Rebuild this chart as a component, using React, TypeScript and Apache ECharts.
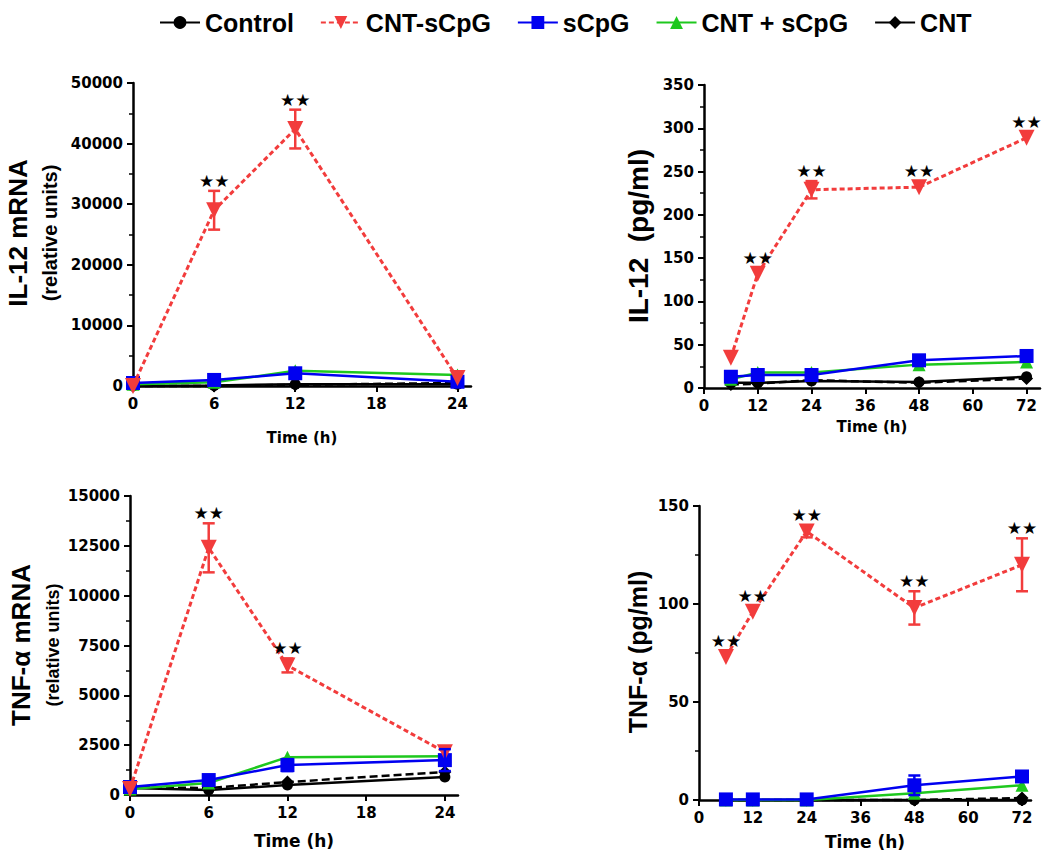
import React, { useEffect, useRef } from "react";
import * as echarts from "echarts";

// ---------- categories / ticks ----------
const SERIES_NAMES = ["Control", "CNT-sCpG", "sCpG", "CNT + sCpG", "CNT"];
const mrnaTimes = [0, 6, 12, 24];
const proteinTimes = [6, 12, 24, 48, 72];
const mrnaTimeTicks = [0, 6, 12, 18, 24];
const proteinTimeTicks = [0, 12, 24, 36, 48, 60, 72];

// ---------- Panel 1: IL-12 mRNA (relative units) ----------
const il12mControl = [0, 100, 300, 300];
const il12mCntSCpG = [0, 29000, 42400, 1300];
const il12mCntSCpGErr = [0, 3200, 3200, 0];
const il12mSCpG = [500, 1000, 2100, 700];
const il12mSCpGErr = [0, 0, 0, 0];
const il12mCntPlusSCpG = [300, 600, 2500, 1800];
const il12mCnt = [0, 0, 200, 500];
const il12mStars = [0, 1, 1, 0];

// ---------- Panel 2: IL-12 (pg/ml) ----------
const il12pControl = [6, 6, 8, 7, 13];
const il12pCntSCpG = [35, 132, 229, 232, 289];
const il12pCntSCpGErr = [0, 0, 10, 0, 0];
const il12pSCpG = [13, 15, 15, 32, 37];
const il12pSCpGErr = [0, 0, 0, 0, 0];
const il12pCntPlusSCpG = [10, 18, 18, 27, 30];
const il12pCnt = [4, 5, 9, 6, 11];
const il12pStars = [0, 1, 1, 1, 1];

// ---------- Panel 3: TNF-α mRNA (relative units) ----------
const tnfmControl = [350, 250, 500, 900];
const tnfmCntSCpG = [300, 12400, 6500, 2150];
const tnfmCntSCpGErr = [0, 1230, 350, 0];
const tnfmSCpG = [400, 750, 1500, 1750];
const tnfmSCpGErr = [0, 0, 300, 550];
const tnfmCntPlusSCpG = [300, 600, 1900, 1950];
const tnfmCnt = [400, 350, 650, 1150];
const tnfmStars = [0, 1, 1, 0];

// ---------- Panel 4: TNF-α (pg/ml) ----------
const tnfpControl = [0, 0, 0, 0, 0];
const tnfpCntSCpG = [73, 96, 137, 98, 120];
const tnfpCntSCpGErr = [0, 0, 3, 8.5, 13.5];
const tnfpSCpG = [0.3, 0.3, 0.3, 7.5, 12];
const tnfpSCpGErr = [0, 0, 0, 5, 0];
const tnfpCntPlusSCpG = [0, 0, 0, 3.5, 7.5];
const tnfpCnt = [0, 0, 0, 0, 1];
const tnfpStars = [1, 1, 1, 1, 1];

// ---------- styles ----------
const RED = "#f23c3c";
const BLUE = "#0000f0";
const GREEN = "#1ec81e";
const BLACK = "#000000";

const STYLE: Record<string, any> = {
  Control: { color: BLACK, symbol: "circle", size: 11, rotate: 0, type: "solid", width: 2.5, z: 3 },
  "CNT-sCpG": { color: RED, symbol: "triangle", size: 16, rotate: 180, type: [5, 3], width: 3, z: 6 },
  sCpG: { color: BLUE, symbol: "rect", size: 14, rotate: 0, type: "solid", width: 2.5, z: 5 },
  "CNT + sCpG": { color: GREEN, symbol: "triangle", size: 13, rotate: 0, type: "solid", width: 2.5, z: 4 },
  CNT: { color: BLACK, symbol: "diamond", size: 13, rotate: 0, type: [8, 4], width: 2.5, z: 2 },
};

const TICK_FONT = {
  color: "#000",
  fontFamily: "DejaVu Sans",
  fontWeight: "bold" as const,
  fontSize: 15,
};

function lineSeries(name: string, grid: number, times: number[], values: number[]) {
  const s = STYLE[name];
  return {
    type: "line",
    name,
    xAxisIndex: grid,
    yAxisIndex: grid,
    data: times.map((t, i) => [t, values[i]]),
    symbol: s.symbol,
    symbolSize: s.size,
    symbolRotate: s.rotate,
    showAllSymbol: true,
    lineStyle: { color: s.color, width: s.width, type: s.type },
    itemStyle: { color: s.color },
    z: s.z,
    clip: false,
  };
}

function errSeries(grid: number, times: number[], values: number[], errs: number[], stars: number[] | null, color: string) {
  return {
    type: "custom",
    xAxisIndex: grid,
    yAxisIndex: grid,
    z: 7,
    clip: false,
    silent: true,
    encode: { x: 0, y: 1 },
    data: times.map((t, i) => [t, values[i], errs[i], stars ? stars[i] : 0]),
    renderItem: (params: any, api: any) => {
      const x = api.value(0);
      const y = api.value(1);
      const e = api.value(2);
      const star = api.value(3);
      const c = api.coord([x, y]);
      const children: any[] = [];
      let topY = c[1];
      if (e > 0) {
        const hi = api.coord([x, y + e]);
        const lo = api.coord([x, y - e]);
        const st = { stroke: color, lineWidth: 2.5 };
        children.push({ type: "line", shape: { x1: c[0], y1: hi[1], x2: c[0], y2: lo[1] }, style: st });
        children.push({ type: "line", shape: { x1: c[0] - 6, y1: hi[1], x2: c[0] + 6, y2: hi[1] }, style: st });
        children.push({ type: "line", shape: { x1: c[0] - 6, y1: lo[1], x2: c[0] + 6, y2: lo[1] }, style: st });
        topY = hi[1];
      }
      if (star) {
        children.push({
          type: "text",
          x: c[0],
          y: Math.min(topY - 10, c[1] - 16),
          style: {
            text: "★★",
            align: "center",
            verticalAlign: "middle",
            fill: "#000",
            font: 'bold 17px "DejaVu Sans"',
          },
        });
      }
      return { type: "group", children };
    },
  };
}

function xAxis(grid: number, max: number, interval: number, ticks: number[], nameGap: number, nameSize: number) {
  return {
    type: "value",
    gridIndex: grid,
    min: 0,
    max,
    interval,
    axisLine: { show: true, onZero: false, lineStyle: { color: "#000", width: 2.5 } },
    axisTick: { show: true, length: 6, lineStyle: { color: "#000", width: 2 }, customValues: ticks },
    axisLabel: { ...TICK_FONT, margin: 10, customValues: ticks, formatter: (v: number) => String(v) },
    splitLine: { show: false },
    name: "Time (h)",
    nameLocation: "middle",
    nameGap,
    nameTextStyle: { color: "#000", fontFamily: "DejaVu Sans", fontWeight: "bold", fontSize: nameSize },
  };
}

function yAxis(grid: number, max: number, interval: number) {
  return {
    type: "value",
    gridIndex: grid,
    min: 0,
    max,
    interval,
    axisLine: { show: true, lineStyle: { color: "#000", width: 2.5 } },
    axisTick: { show: true, length: 6, lineStyle: { color: "#000", width: 2 } },
    minorTick: { show: true, splitNumber: 2, length: 4, lineStyle: { color: "#000", width: 1.5 } },
    axisLabel: { ...TICK_FONT, margin: 10, formatter: (v: number) => String(v) },
    splitLine: { show: false },
    minorSplitLine: { show: false },
  };
}

function panelSeries(grid: number, times: number[], control: number[], cntS: number[], cntSErr: number[], s: number[], sErr: number[], cntPlus: number[], cnt: number[], stars: number[]) {
  return [
    lineSeries("CNT", grid, times, cnt),
    lineSeries("Control", grid, times, control),
    lineSeries("CNT + sCpG", grid, times, cntPlus),
    lineSeries("sCpG", grid, times, s),
    lineSeries("CNT-sCpG", grid, times, cntS),
    errSeries(grid, times, s, sErr, null, BLUE),
    errSeries(grid, times, cntS, cntSErr, stars, RED),
  ];
}

function yTitle(text: string, x: number, y: number, size: number) {
  return {
    type: "text",
    x,
    y,
    rotation: Math.PI / 2,
    style: {
      text,
      align: "center",
      verticalAlign: "middle",
      fill: "#000",
      font: `bold ${size}px "Liberation Sans"`,
    },
  };
}

export default function App() {
  const ref = useRef<HTMLDivElement>(null);
  useEffect(() => {
    if (!ref.current) return;
    const chart = echarts.init(ref.current, null, { renderer: "svg" });
    const option: any = {
      animation: false,
      backgroundColor: "#ffffff",
      textStyle: { fontFamily: "Liberation Sans" },
      legend: {
        top: 5,
        left: 154,
        itemWidth: 40,
        itemHeight: 16,
        itemGap: 26,
        data: [
          "Control",
          "CNT-sCpG",
          "sCpG",
          "CNT + sCpG",
          { name: "CNT", lineStyle: { type: "solid" } },
        ],
        textStyle: { fontFamily: "Liberation Sans", fontWeight: "bold", fontSize: 25, color: "#000" },
      },
      grid: [
        { left: 133, top: 83, width: 338, height: 303 },
        { left: 704, top: 85, width: 336, height: 303 },
        { left: 130, top: 496, width: 328, height: 299 },
        { left: 699, top: 506, width: 332, height: 294 },
      ],
      xAxis: [
        xAxis(0, 25, 6, mrnaTimeTicks, 44, 15),
        xAxis(1, 75, 12, proteinTimeTicks, 31, 15),
        xAxis(2, 25, 6, mrnaTimeTicks, 37, 17),
        xAxis(3, 74, 12, proteinTimeTicks, 33, 17),
      ],
      yAxis: [
        yAxis(0, 50000, 10000),
        yAxis(1, 350, 50),
        yAxis(2, 15000, 2500),
        yAxis(3, 150, 50),
      ],
      graphic: [
        yTitle("IL-12 mRNA", 18, 233, 26),
        yTitle("(relative units)", 50, 233, 20),
        yTitle("IL-12  (pg/ml)", 638, 236, 28),
        yTitle("TNF-α mRNA", 21, 645, 26),
        yTitle("(relative units)", 53, 645, 18),
        yTitle("TNF-α (pg/ml)", 638, 652, 25),
      ],
      series: [
        ...panelSeries(0, mrnaTimes, il12mControl, il12mCntSCpG, il12mCntSCpGErr, il12mSCpG, il12mSCpGErr, il12mCntPlusSCpG, il12mCnt, il12mStars),
        ...panelSeries(1, proteinTimes, il12pControl, il12pCntSCpG, il12pCntSCpGErr, il12pSCpG, il12pSCpGErr, il12pCntPlusSCpG, il12pCnt, il12pStars),
        ...panelSeries(2, mrnaTimes, tnfmControl, tnfmCntSCpG, tnfmCntSCpGErr, tnfmSCpG, tnfmSCpGErr, tnfmCntPlusSCpG, tnfmCnt, tnfmStars),
        ...panelSeries(3, proteinTimes, tnfpControl, tnfpCntSCpG, tnfpCntSCpGErr, tnfpSCpG, tnfpSCpGErr, tnfpCntPlusSCpG, tnfpCnt, tnfpStars),
      ],
    };
    chart.setOption(option);
    return () => chart.dispose();
  }, []);
  return (
    <div
      ref={ref}
      style={{ position: "fixed", left: 0, top: 0, width: 1050, height: 863, background: "#fff" }}
    />
  );
}

export { SERIES_NAMES };
